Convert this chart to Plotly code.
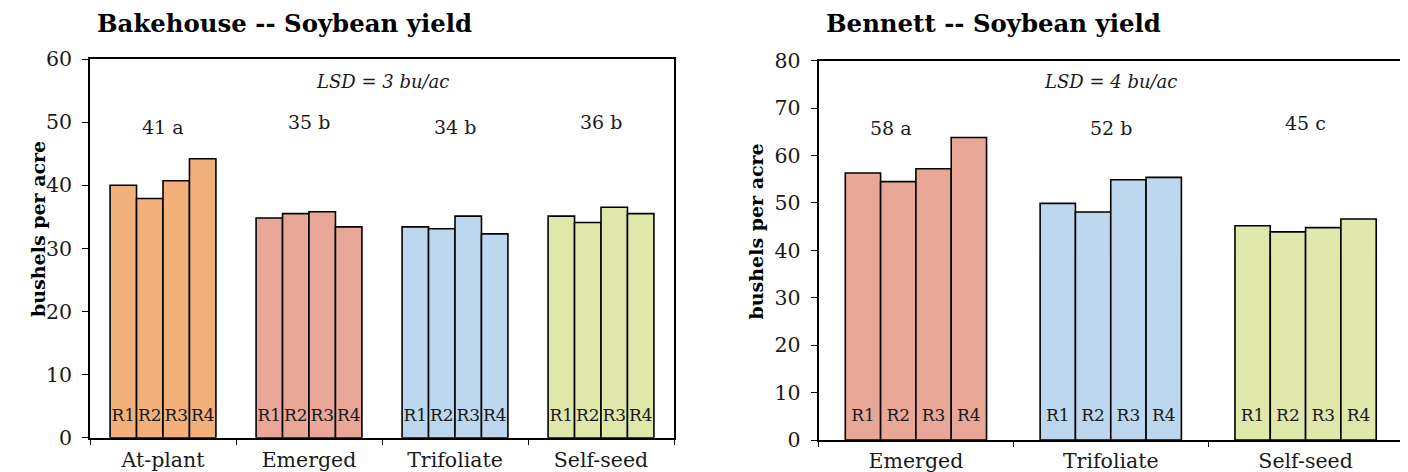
import plotly.graph_objects as go

# ---------------- data ----------------
reps = ["R1", "R2", "R3", "R4"]

left_cats = ["At-plant", "Emerged", "Trifoliate", "Self-seed"]
left_r1 = [40.0, 34.8, 33.4, 35.1]
left_r2 = [37.9, 35.5, 33.1, 34.1]
left_r3 = [40.7, 35.8, 35.1, 36.5]
left_r4 = [44.2, 33.4, 32.3, 35.5]
left_means = ["41 a", "35 b", "34 b", "36 b"]
left_lsd = "LSD = 3 bu/ac"
left_title = "Bakehouse -- Soybean yield"

right_cats = ["Emerged", "Trifoliate", "Self-seed"]
right_r1 = [56.3, 49.9, 45.2]
right_r2 = [54.5, 48.1, 43.9]
right_r3 = [57.2, 54.9, 44.8]
right_r4 = [63.8, 55.4, 46.6]
right_means = ["58 a", "52 b", "45 c"]
right_lsd = "LSD = 4 bu/ac"
right_title = "Bennett -- Soybean yield"

y_title = "bushels per acre"

# ---------------- styles ----------------
cat_colors = {
    "At-plant": "#F2B07B",
    "Emerged": "#E8A797",
    "Trifoliate": "#BDD7EE",
    "Self-seed": "#DFE7AB",
}
FONT = "DejaVu Serif"
TXT = "#1a1a1a"
OFF = 8                      # default page body margin
FW, FH = 1400, 464           # figure size


def px(xp):
    return (xp - OFF) / FW


def py(yp):
    return 1 - (yp - OFF) / FH


fig = go.Figure()


def add_panel(cats, series, xa, ya, label_y):
    colors = [cat_colors[c] for c in cats]
    for rep, vals in zip(reps, series):
        fig.add_trace(go.Bar(
            x=cats, y=vals, name=rep, offsetgroup=rep,
            marker=dict(color=colors, line=dict(color="#000000", width=1.6)),
            xaxis=xa, yaxis=ya, showlegend=False, hoverinfo="x+y",
        ))
    for rep in reps:
        fig.add_trace(go.Scatter(
            x=cats, y=[label_y] * len(cats), mode="text",
            text=[rep] * len(cats), offsetgroup=rep,
            textfont=dict(family=FONT, size=17, color=TXT),
            xaxis=xa, yaxis=ya, showlegend=False, hoverinfo="skip",
        ))


add_panel(left_cats, [left_r1, left_r2, left_r3, left_r4], "x", "y", 3.25)
add_panel(right_cats, [right_r1, right_r2, right_r3, right_r4], "x2", "y2", 4.9)

axis_common = dict(
    showline=True, linecolor="#000000", linewidth=1.6, mirror=True,
    ticks="outside", tickcolor="#000000", tickwidth=1.3,
    tickfont=dict(family=FONT, size=20.5, color=TXT),
    showgrid=False, zeroline=False, fixedrange=True, automargin=False,
)

fig.update_layout(
    width=FW, height=FH,
    margin=dict(l=0, r=0, t=0, b=0, pad=0),
    paper_bgcolor="white", plot_bgcolor="white",
    barmode="group", bargap=0.275, bargroupgap=0,
    scattermode="group", scattergap=0.275,
    showlegend=False,
    xaxis=dict(domain=[px(90), px(674)], anchor="y", type="category",
               tickson="boundaries", ticklen=5, ticklabelstandoff=3, **axis_common),
    yaxis=dict(domain=[py(437.7), py(59)], anchor="x",
               range=[0, 60], dtick=10, ticklen=6, ticklabelstandoff=6, **axis_common),
    xaxis2=dict(domain=[px(818.5), px(1403)], anchor="y2", type="category",
                tickson="boundaries", ticklen=5, ticklabelstandoff=2, **axis_common),
    yaxis2=dict(domain=[py(440), py(60.7)], anchor="x2",
                range=[0, 80], dtick=10, ticklen=6, ticklabelstandoff=6, **axis_common),
)

ann = []
# mean labels
left_mean_y = [49.2, 50.0, 49.2, 50.0]
for c, t, yy in zip(left_cats, left_means, left_mean_y):
    ann.append(dict(x=c, y=yy, xref="x", yref="y", text=t, showarrow=False,
                    font=dict(family=FONT, size=19, color=TXT)))
right_mean_y = [65.9, 65.9, 66.8]
right_mean_shift = [-25, 0, 0]
for c, t, yy, sh in zip(right_cats, right_means, right_mean_y, right_mean_shift):
    ann.append(dict(x=c, y=yy, xref="x2", yref="y2", text=t, showarrow=False,
                    xshift=sh, font=dict(family=FONT, size=19, color=TXT)))
# LSD labels
ann.append(dict(x=0.5, y=56.5, xref="x domain", yref="y", text="<i>" + left_lsd + "</i>",
                showarrow=False, font=dict(family=FONT, size=18, color=TXT)))
ann.append(dict(x=0.5, y=75.6, xref="x2 domain", yref="y2", text="<i>" + right_lsd + "</i>",
                showarrow=False, font=dict(family=FONT, size=18, color=TXT)))
# titles
ann.append(dict(x=px(95), y=py(24), xref="paper", yref="paper", xanchor="left",
                yanchor="middle", text="<b>" + left_title + "</b>", showarrow=False,
                font=dict(family=FONT, size=24.4, color="#000000")))
ann.append(dict(x=px(824), y=py(24), xref="paper", yref="paper", xanchor="left",
                yanchor="middle", text="<b>" + right_title + "</b>", showarrow=False,
                font=dict(family=FONT, size=24.4, color="#000000")))
# y-axis titles
ann.append(dict(x=px(25), y=py(229), xref="paper", yref="paper", textangle=-90,
                text="<b>" + y_title + "</b>", showarrow=False,
                font=dict(family=FONT, size=19, color="#000000")))
ann.append(dict(x=px(755), y=py(231.5), xref="paper", yref="paper", textangle=-90,
                text="<b>" + y_title + "</b>", showarrow=False,
                font=dict(family=FONT, size=19, color="#000000")))
fig.update_layout(annotations=ann)

fig.write_html("out.html")
